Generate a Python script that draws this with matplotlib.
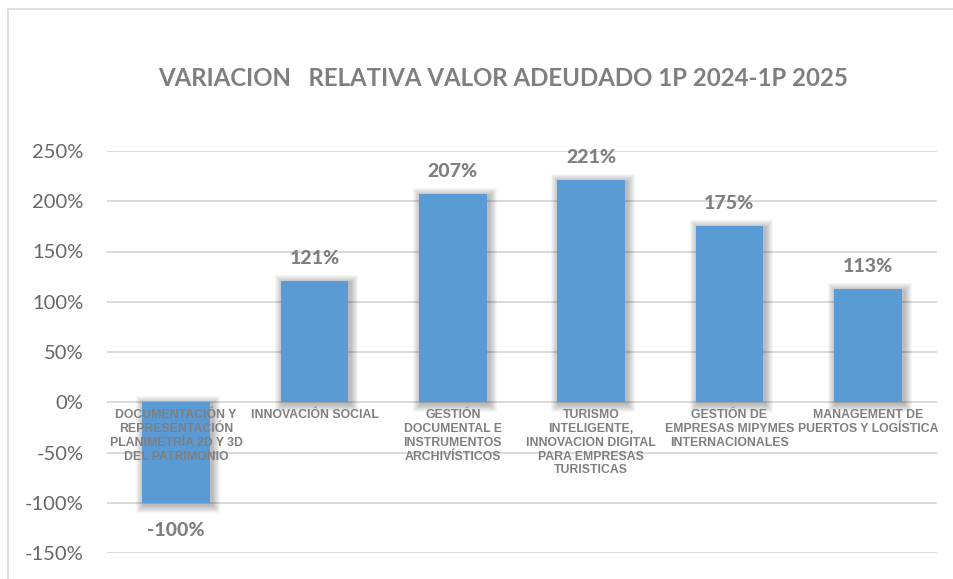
import matplotlib.pyplot as plt
from matplotlib.lines import Line2D
from matplotlib.patches import Rectangle

# datos
categorias = [
    "DOCUMENTACIÓN Y\nREPRESENTACIÓN\nPLANIMETRÍA 2D Y 3D\nDEL PATRIMONIO",
    "INNOVACIÓN SOCIAL",
    "GESTIÓN\nDOCUMENTAL E\nINSTRUMENTOS\nARCHIVÍSTICOS",
    "TURISMO\nINTELIGENTE,\nINNOVACION DIGITAL\nPARA EMPRESAS\nTURISTICAS",
    "GESTIÓN DE\nEMPRESAS MIPYMES\nINTERNACIONALES",
    "MANAGEMENT DE\nPUERTOS Y LOGÍSTICA",
]
variacion = [-1.00, 1.21, 2.07, 2.21, 1.75, 1.13]
yticks = [-1.5, -1.0, -0.5, 0.0, 0.5, 1.0, 1.5, 2.0, 2.5]

AZUL = "#5B9BD5"
GRIS = "#7F7F7F"
GRID = "#D9D9D9"

fig = plt.figure(figsize=(9.54, 5.79), dpi=100)
W, H = 954, 579
ax = fig.add_axes([107 / W, 26 / H, (937 - 107) / W, (553 - 151) / H])

x = list(range(len(categorias)))
ancho = 0.49
ax.set_xlim(-0.5, len(categorias) - 0.5)
ax.set_ylim(-1.5, 2.5)

# sombra difusa de las barras (efecto Excel), en pixeles pasados a datos
px_x = 6 / 830
px_y = 4 / 402
for i, v in enumerate(variacion):
    y0, y1 = min(0, v), max(0, v)
    for k in range(1, 9):
        ax.add_patch(Rectangle((i - ancho / 2 - k * px_x + 2 * px_x, y0 - k * px_y - 2 * px_y),
                               ancho + 2 * k * px_x, (y1 - y0) + 2 * k * px_y,
                               facecolor="black", alpha=0.035, linewidth=0, zorder=2))
ax.bar(x, variacion, width=ancho, color=AZUL, zorder=3, linewidth=0)

for i, v in enumerate(variacion):
    if v >= 0:
        ax.annotate(f"{v * 100:.0f}%", (i, v), xytext=(0, 10), textcoords="offset points",
                    ha="center", va="bottom", fontsize=14, fontweight="black",
                    color=GRIS, family="Lato")
    else:
        ax.annotate(f"{v * 100:.0f}%", (i, v), xytext=(0, -14), textcoords="offset points",
                    ha="center", va="top", fontsize=14, fontweight="black",
                    color=GRIS, family="Lato")

for i, c in enumerate(categorias):
    ax.annotate(c, (i, 0), xytext=(0, -5), textcoords="offset points",
                ha="center", va="top", fontsize=8.8, fontweight="bold",
                color=GRIS, family="Liberation Sans", linespacing=1.2, zorder=5)

ax.set_yticks(yticks)
ax.set_yticklabels([f"{t * 100:.0f}%" for t in yticks], family="Lato",
                   fontsize=14.5, color="#666666")
ax.tick_params(axis="y", length=0, pad=17)
ax.set_xticks([])
ax.grid(axis="y", color=GRID, linewidth=1.4, zorder=0)
ax.set_axisbelow(True)
for s in ax.spines.values():
    s.set_visible(False)

fig.text(503 / W, 1 - 78 / H, "VARIACION   RELATIVA VALOR ADEUDADO 1P 2024-1P 2025",
         ha="center", va="center", fontsize=17.3, fontweight="bold",
         color=GRIS, family="Lato")

# borde del area del grafico
fig.add_artist(Line2D([8 / W, 8 / W], [0, 1 - 9 / H], color=GRID, linewidth=1.2))
fig.add_artist(Line2D([8 / W, 1], [1 - 9 / H, 1 - 9 / H], color=GRID, linewidth=1.2))

fig.savefig("out.png", dpi=100)
